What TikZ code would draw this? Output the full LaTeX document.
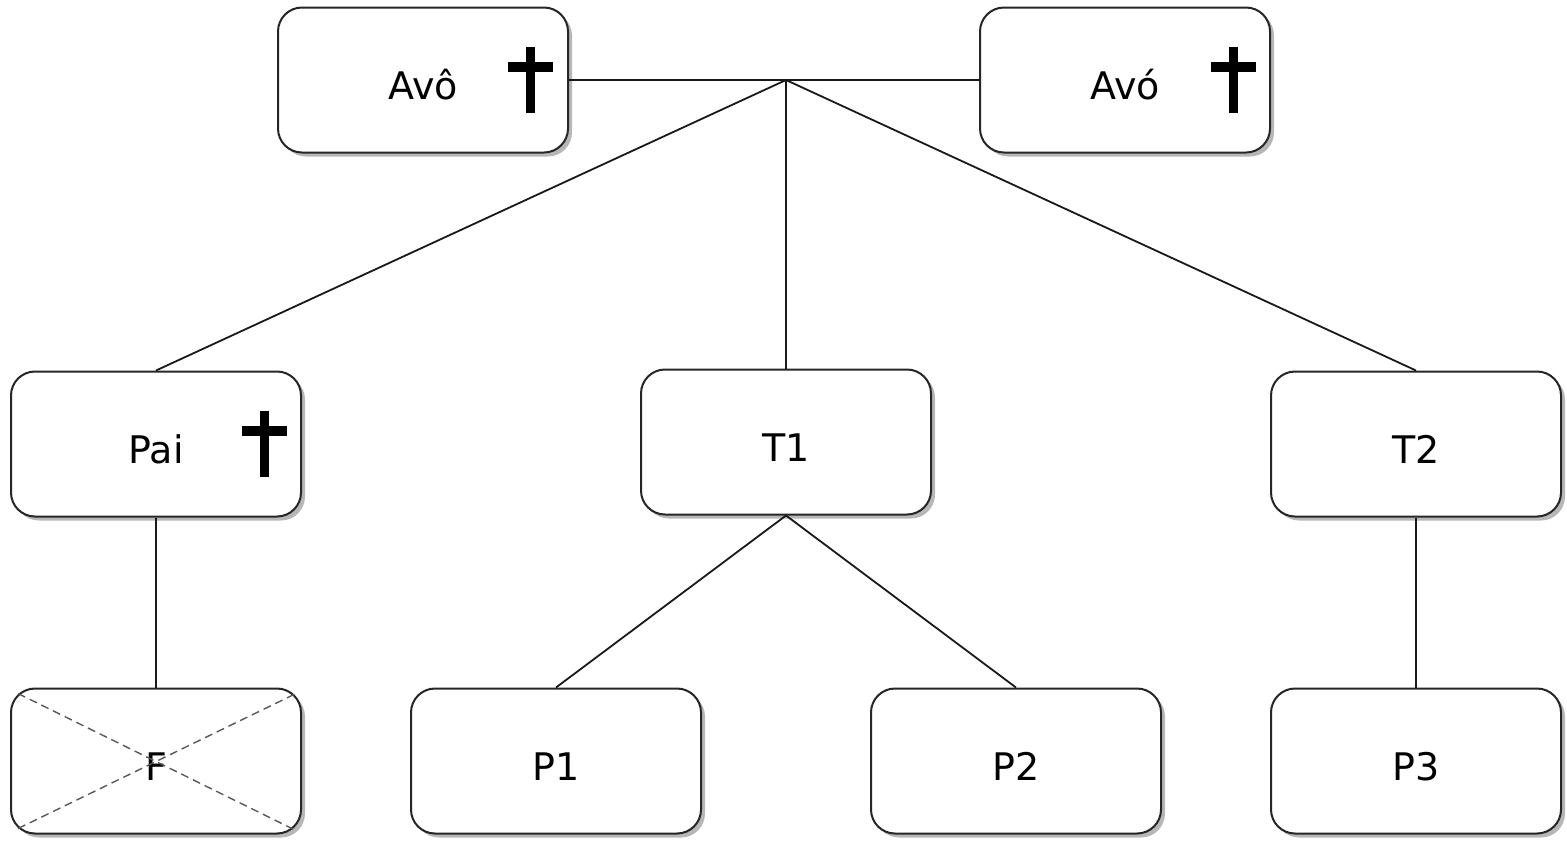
\documentclass[tikz,border=0pt]{standalone}
\usepackage{fontspec}
\setmainfont{DejaVu Sans}
\usetikzlibrary{shadows}

\tikzset{
  pessoa/.style={draw=black!85, line width=1pt, fill=white, rounded corners=12pt,
    minimum width=145pt, minimum height=72.5pt, inner sep=0pt,
    text height=19pt, text depth=0pt,
    font=\fontsize{19}{23}\selectfont,
    drop shadow={shadow xshift=2pt, shadow yshift=-2pt, fill=black!40, opacity=0.7}},
  ligacao/.style={line width=0.9pt, black!90},
  cruz/.pic={
    \fill (-4.5,-33) rectangle (4.5,33);
    \fill (-22.5,-18) rectangle (22.5,-8);}
}

\begin{document}
\begin{tikzpicture}[x=0.5pt, y=-0.5pt]
\useasboundingbox (0,0) rectangle (1567,843);
% avos
\node[pessoa] (avo1) at (423,80) {Avô};
\node[pessoa] (avo2) at (1125,80) {Avó};
\pic at ([shift={(107,0)}]avo1.center) {cruz};
\pic at ([shift={(108,0)}]avo2.center) {cruz};
% filhos
\node[pessoa] (pai) at (156,444) {Pai};
\node[pessoa] (t1) at (786,442) {T1};
\node[pessoa] (t2) at (1416,444) {T2};
\pic at ([shift={(108,0)}]pai.center) {cruz};
% netos
\node[pessoa] (f) at (156,761) {F};
\node[pessoa] (p1) at (556,761) {P1};
\node[pessoa] (p2) at (1016,761) {P2};
\node[pessoa] (p3) at (1416,761) {P3};
\draw[dash pattern=on 4pt off 2.5pt, line width=0.7pt, black!65]
  ([shift={(8,6)}]f.north west) -- ([shift={(-6,-4)}]f.south east)
  ([shift={(8,-6)}]f.south west) -- ([shift={(-6,6)}]f.north east);
% ligacoes
\coordinate (uniao) at (786,80);
\draw[ligacao] (avo1.east) -- (avo2.west);
\draw[ligacao] (uniao) -- (pai.north);
\draw[ligacao] (uniao) -- (t1.north);
\draw[ligacao] (uniao) -- (t2.north);
\draw[ligacao] (pai.south) -- (f.north);
\draw[ligacao] (t1.south) -- (p1.north);
\draw[ligacao] (t1.south) -- (p2.north);
\draw[ligacao] (t2.south) -- (p3.north);
\end{tikzpicture}
\end{document}
